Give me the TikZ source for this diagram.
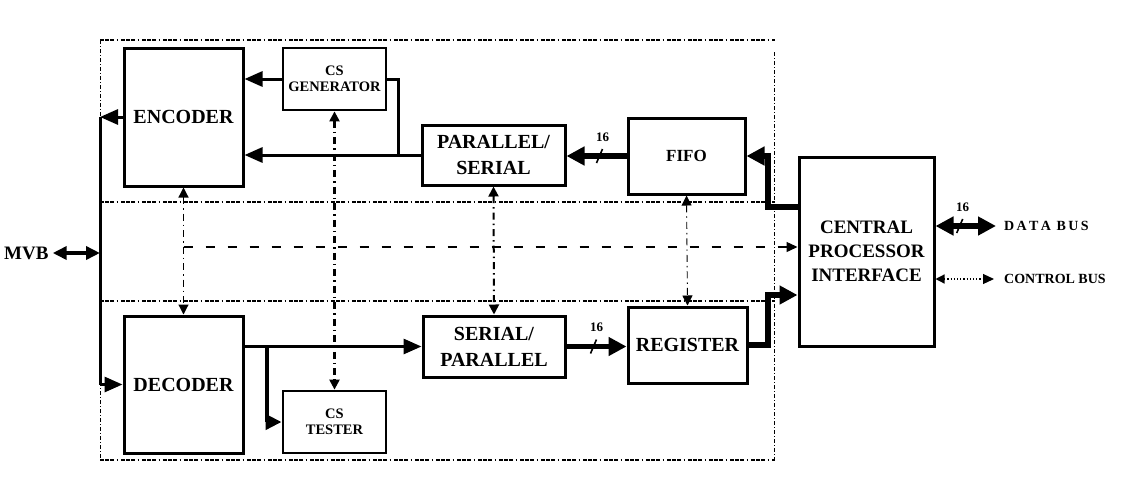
\documentclass[tikz,border=0pt]{standalone}
\usepackage{fontspec}
\setmainfont{Liberation Serif}
\usetikzlibrary{arrows.meta,calc,positioning}
\begin{document}
\begin{tikzpicture}[
	x=1pt, y=-1pt,
	block/.style={draw, line width=3pt, fill=white, align=center, inner sep=0pt, font=\bfseries\fontsize{20}{26}\selectfont},
	small/.style={draw, line width=2.8pt, fill=white, align=center, inner sep=0pt, minimum width=103pt, minimum height=62pt, font=\bfseries\fontsize{14.5}{16}\selectfont},
	line/.style={line width=3pt},
	conn/.style={line width=3pt, -{Triangle[length=18pt,width=15pt]}},
	bus/.style={line width=5.5pt, -{Triangle[length=18pt,width=18pt]}},
	ctrl/.style={line width=1.2pt, dash pattern=on 7pt off 4pt on 1.5pt off 4pt, {Triangle[length=10pt,width=10pt]}-{Triangle[length=10pt,width=10pt]}},
	frame/.style={line width=2.8pt, dash pattern=on 3.5pt off 1.5pt on 3.5pt off 1.5pt on 3.5pt off 3pt on 1.5pt off 3pt},
	side/.style={line width=1pt, dash pattern=on 4pt off 2pt on 1pt off 2pt},
	slash/.style={line width=1.6pt},
	lbl/.style={font=\bfseries\fontsize{13}{14}\selectfont},
	txt/.style={font=\bfseries\fontsize{14}{16}\selectfont, anchor=west}
	]
	\useasboundingbox (0,0) rectangle (1128,480);
	
	% Frame of the bus unit
	\draw[frame] (100,40) -- (775,40);
	\draw[frame] (100,202) -- (775,202);
	\draw[frame] (100,301) -- (775,301);
	\draw[frame] (100,460) -- (775,460);
	\draw[side] (100,40) -- (100,460);
	\draw[side] (774,52) -- (774,460);
	
	% Transmit side
	\node[block, minimum width=119pt, minimum height=138pt] (enc) at (183.5,117) {ENCODER};
	\node[small] (csgen) at (334.5,79) {CS\\GENERATOR};
	\node[block, minimum width=143pt, minimum height=60pt] (ps) at (493.5,155) {PARALLEL/\\SERIAL};
	\node[block, minimum width=117pt, minimum height=76pt, font=\bfseries\fontsize{17}{20}\selectfont] (fifo) at (686.5,156) {FIFO};
	
	% Receive side
	\node[block, minimum width=119pt, minimum height=137pt] (dec) at (183.5,384.5) {DECODER};
	\node[small] (cstest) at (334.5,422) {CS\\TESTER};
	\node[block, minimum width=142pt, minimum height=61pt] (sp) at (494,346.5) {SERIAL/\\PARALLEL};
	\node[block, minimum width=119pt, minimum height=76pt] (reg) at (687.5,345) {REGISTER};
	
	% Processor side
	\node[block, minimum width=135pt, minimum height=189pt, font=\bfseries\fontsize{19}{24}\selectfont] (cpi) at (866.5,251.5) {CENTRAL\\PROCESSOR\\INTERFACE};
	\node[font=\bfseries\fontsize{19}{22}\selectfont, anchor=west, inner sep=0pt] (mvb) at (4,253) {MVB};
	\node[txt, inner sep=0pt] (dbus) at (1004,226) {D\,A\,T\,A\, B\,U\,S};
	\node[txt, inner sep=0pt] (cbus) at (1004,279) {CONTROL BUS};
	
	% Junctions
	\coordinate (jn) at (398,155);
	\coordinate (mt) at (100,117);
	\coordinate (mm) at (100,253);
	\coordinate (mb) at (100,384.5);
	\coordinate (b1) at (768,207);
	\coordinate (b2) at (768,295);
	\coordinate (br) at (267,346.5);
	\coordinate (h0) at (183.5,247);
	\coordinate (db) at (996,226);
	\coordinate (cb) at (994,279);
	
	% MVB line
	\draw[line] (mt) -- (mb);
	\draw[line width=3.5pt, {Triangle[length=14pt,width=13pt]}-{Triangle[length=14pt,width=13pt]}] (mvb.east) ++(4,0) -- (mm);
	\draw[conn] (enc.west) -- (mt);
	\draw[conn] (mb) -- (dec.west);
	
	% Data paths
	\draw[conn] (csgen.west) -- (enc.east |- csgen.west);
	\draw[line] (csgen.east) -| (jn);
	\draw[conn] (ps.west) -- (enc.east |- ps.west);
	\draw[bus] (fifo.west) -- (ps.east |- fifo.west) coordinate[pos=0.45] (s1);
	\draw[bus] (cpi.west |- b1) -- (b1) |- (fifo.east);
	\draw[bus] (reg.east) -| (b2) -- (cpi.west |- b2);
	\draw[conn] (dec.east |- sp.west) -- (sp.west);
	\draw[line width=4pt, -{Triangle[length=16pt,width=15pt]}] (br) |- (cstest.west);
	\draw[bus] (sp.east) -- (reg.west |- sp.east) coordinate[pos=0.45] (s2);
	\draw[bus, {Triangle[length=18pt,width=18pt]}-{Triangle[length=18pt,width=18pt]}] (cpi.east |- db) -- (db) coordinate[pos=0.4] (s3);
	
	% Width marks
	\foreach \s in {s1,s2,s3} {
		\draw[slash] ($(\s)+(-3,7)$) -- ($(\s)+(3,-7)$);
		\node[lbl] at ($(\s)+(3,-19)$) {16};
	}
	
	% Control lines
	\draw[ctrl] (enc.south) -- (dec.north);
	\draw[ctrl, line width=2.2pt] (csgen.south) -- (cstest.north);
	\draw[ctrl, line width=2pt] (ps.south) -- (sp.north);
	\draw[ctrl, line width=0.9pt] (fifo.south) -- (reg.north);
	\draw[line width=1.4pt, dash pattern=on 9pt off 13pt, -{Triangle[length=11pt,width=10pt]}] (h0) -- (cpi.west |- h0);
	\draw[line width=1.2pt, dotted, {Triangle[length=9pt,width=9pt]}-{Triangle[length=11pt,width=10pt]}] (cpi.east |- cb) -- (cb);
\end{tikzpicture}
\end{document}
